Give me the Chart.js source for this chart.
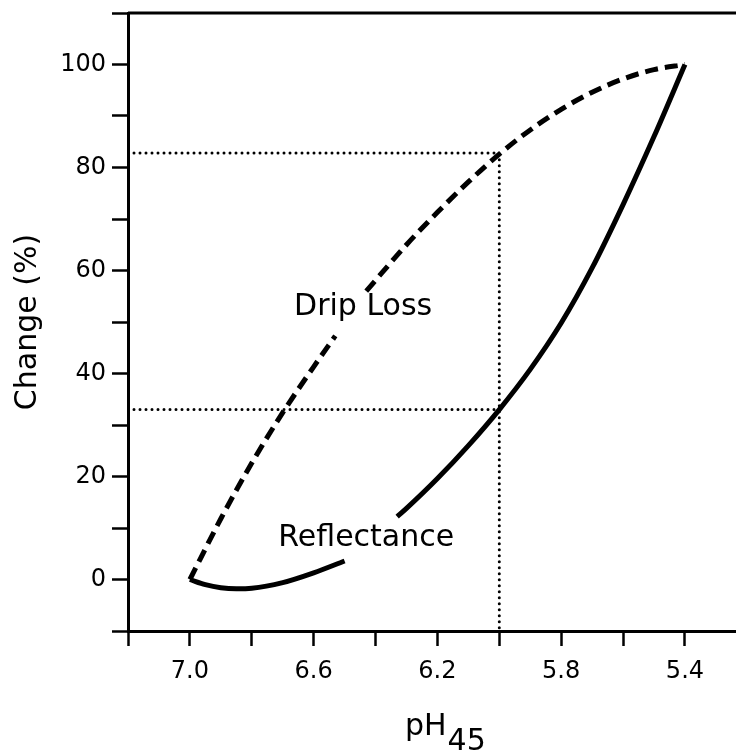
<!DOCTYPE html>
<html>
<head>
<meta charset="utf-8">
<script src="https://cdn.jsdelivr.net/npm/chart.js@4.4.1/dist/chart.umd.min.js"></script>
<style>
  html, body { margin: 0; padding: 0; background: #fff; }
  #chart { display: block; }
</style>
</head>
<body>
<canvas id="chart" width="736" height="753"></canvas>
<script>
// axis ticks (pH axis is reversed: 7.2 on the left)
const xTicks = [7.2, 7.0, 6.8, 6.6, 6.4, 6.2, 6.0, 5.8, 5.6, 5.4];
const xLabels = [7.0, 6.6, 6.2, 5.8, 5.4];
const yTicks = [-10, 0, 10, 20, 30, 40, 50, 60, 70, 80, 90, 100, 110];
const yLabels = [0, 20, 40, 60, 80, 100];

// Drip loss (dashed), null = break behind the label
const dripPH = [7.0, 6.9, 6.8, 6.7, 6.6, 6.53, 6.48, 6.43, 6.3, 6.2, 6.1, 6.0, 5.9, 5.8, 5.7, 5.6, 5.5, 5.4];
const dripChange = [0, 11.8, 22.6, 32.4, 41.3, 47.3, null, 56, 65, 71.3, 77.2, 82.6, 87.3, 91.3, 94.6, 97.2, 99, 100];

// Reflectance (solid), null = break behind the label
const reflPH = [7.0, 6.95, 6.9, 6.85, 6.8, 6.7, 6.6, 6.5, 6.45, 6.33, 6.3, 6.2, 6.1, 6.0, 5.9, 5.8, 5.7, 5.6, 5.5, 5.4];
const reflChange = [0, -1, -1.6, -1.8, -1.7, -0.6, 1.3, 3.6, null, 12.2, 13.8, 19.6, 26, 33, 40.8, 49.8, 60.5, 72.8, 86, 100];

// dotted read-off lines at pH 6.0
const guideUpperPH = [7.2, 6.0, 6.0];
const guideUpperChange = [82.8, 82.8, -10];
const guideLowerPH = [7.2, 6.0];
const guideLowerChange = [33, 33];

// curve labels
const notes = ["Drip Loss", "Reflectance"];
const notePH = [6.44, 6.43];
const noteChange = [52.8, 8.1];

const FONT = "'DejaVu Sans', sans-serif";

function pts(xs, ys) {
  return xs.map((x, i) => ({ x: x, y: ys[i] }));
}

const extras = {
  id: "extras",
  afterDraw(chart) {
    const ctx = chart.ctx;
    const area = chart.chartArea;
    const xs = chart.scales.x;
    const ys = chart.scales.y;
    ctx.save();
    // top frame line
    ctx.strokeStyle = "#000";
    ctx.lineWidth = 3;
    ctx.beginPath();
    ctx.moveTo(area.left, area.top);
    ctx.lineTo(area.right, area.top);
    ctx.stroke();

    ctx.fillStyle = "#000";
    ctx.font = "30px " + FONT;
    ctx.textAlign = "center";
    ctx.textBaseline = "middle";
    notes.forEach((t, i) => {
      ctx.fillText(t, xs.getPixelForValue(notePH[i]), ys.getPixelForValue(noteChange[i]));
    });

    // x title with subscript
    ctx.textAlign = "left";
    ctx.textBaseline = "alphabetic";
    const mid = (area.left + area.right) / 2;
    const left = mid - 27;
    ctx.fillText("pH", left, 735);
    const w = ctx.measureText("pH").width;
    ctx.fillText("45", left + w + 1, 750);
    ctx.restore();
  }
};

const lineDefaults = { pointRadius: 0, pointHoverRadius: 0, fill: false, spanGaps: false };

new Chart(document.getElementById("chart"), {
  type: "line",
  data: {
    datasets: [
      Object.assign({
        label: "Drip Loss",
        data: pts(dripPH, dripChange),
        borderColor: "#000",
        borderWidth: 5,
        borderDash: [13, 7],
        cubicInterpolationMode: "monotone"
      }, lineDefaults),
      Object.assign({
        label: "Reflectance",
        data: pts(reflPH, reflChange),
        borderColor: "#000",
        borderWidth: 5,
        cubicInterpolationMode: "monotone"
      }, lineDefaults),
      Object.assign({
        label: "guide upper",
        data: pts(guideUpperPH, guideUpperChange),
        borderColor: "#000",
        borderWidth: 3,
        borderDash: [0, 6],
        borderCapStyle: "round",
        tension: 0
      }, lineDefaults),
      Object.assign({
        label: "guide lower",
        data: pts(guideLowerPH, guideLowerChange),
        borderColor: "#000",
        borderWidth: 3,
        borderDash: [0, 6],
        borderCapStyle: "round",
        tension: 0
      }, lineDefaults)
    ]
  },
  options: {
    responsive: false,
    animation: false,
    devicePixelRatio: 1,
    layout: { padding: { top: 13, right: 0, bottom: 0, left: 0 } },
    plugins: {
      legend: { display: false },
      tooltip: { enabled: false }
    },
    scales: {
      x: {
        type: "linear",
        reverse: true,
        min: 5.235,
        max: 7.2,
        afterFit: s => { s.height = 122; },
        afterBuildTicks: s => { s.ticks = xTicks.map(v => ({ value: v })); },
        border: { display: true, color: "#000", width: 3 },
        grid: { drawOnChartArea: false, drawTicks: true, tickLength: 15, tickWidth: 2.5, tickColor: "#000" },
        ticks: {
          autoSkip: false,
          maxRotation: 0,
          padding: 11,
          color: "#000",
          font: { family: FONT, size: 24 },
          callback: v => xLabels.some(l => Math.abs(l - v) < 1e-6) ? v.toFixed(1) : ""
        }
      },
      y: {
        type: "linear",
        min: -10,
        max: 110,
        afterFit: s => { s.width = 128; },
        afterBuildTicks: s => { s.ticks = yTicks.map(v => ({ value: v })); },
        border: { display: true, color: "#000", width: 3 },
        grid: { drawOnChartArea: false, drawTicks: true, tickLength: 16, tickWidth: 2.5, tickColor: "#000" },
        ticks: {
          autoSkip: false,
          padding: 6,
          color: "#000",
          font: { family: FONT, size: 24, lineHeight: 0.5 },
          callback: v => yLabels.includes(v) ? String(v) : ""
        },
        title: {
          display: true,
          text: "Change (%)",
          color: "#000",
          font: { family: FONT, size: 30 },
          padding: { top: 10, bottom: 0 }
        }
      }
    }
  },
  plugins: [extras]
});
</script>
</body>
</html>
